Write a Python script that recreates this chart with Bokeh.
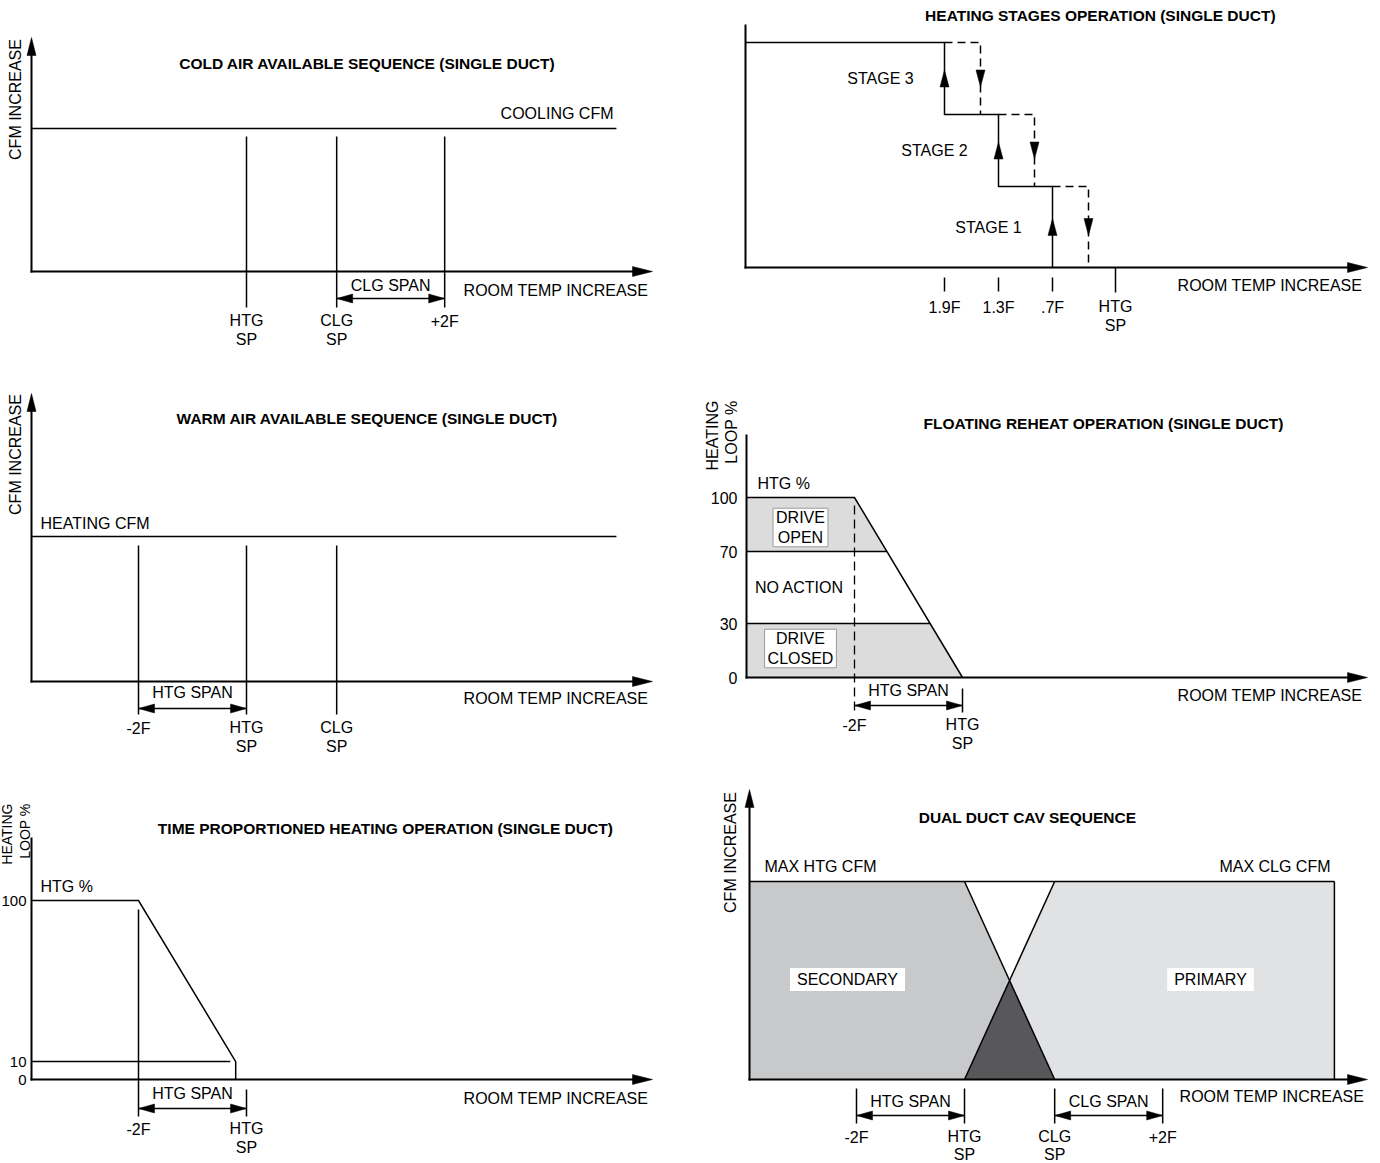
import math
import numpy as np
from bokeh.plotting import figure
from bokeh.models import Range1d, Label
from bokeh.core.properties import value
from bokeh.embed import file_html
from bokeh.resources import INLINE

# ---------------- chart values ----------------
# temperatures in deg F relative to the heating setpoint; air flow / loop output in %
# 1. Cold air available sequence
cold_marks_f = [0.0, 1.67, 3.67]
cold_mark_labels = ["HTG\nSP", "CLG\nSP", "+2F"]
cold_span_f = [1.67, 3.67]
cold_cooling_cfm = 100
cold_cfm_end_f = 6.85

# 2. Heating stages
stage_names = ["STAGE 1", "STAGE 2", "STAGE 3"]
stage_on_f = [-0.7, -1.3, -1.9]
stage_off_f = [-0.3, -0.9, -1.5]
stage_level = [36, 68, 100]
stage_tick_labels = [".7F", "1.3F", "1.9F"]

# 3. Warm air available sequence
warm_marks_f = [-2.0, 0.0, 1.67]
warm_mark_labels = ["-2F", "HTG\nSP", "CLG\nSP"]
warm_span_f = [-2.0, 0.0]
warm_heating_cfm = 100
warm_cfm_end_f = 6.85

# 4. Floating reheat
float_ramp_f = [-2.0, 0.0]
float_ramp_pct = [100, 0]
float_open_band = [70, 100]
float_closed_band = [0, 30]
float_ticks = [0, 30, 70, 100]
float_marks_f = [-2.0, 0.0]
float_mark_labels = ["-2F", "HTG\nSP"]

# 5. Time proportioned heating
tp_ramp_f = [-2.0, -0.2]
tp_ramp_pct = [100, 10]
tp_min_pct = 10
tp_min_end_f = -0.3
tp_ticks = [0, 10, 100]
tp_marks_f = [-2.0, 0.0]
tp_mark_labels = ["-2F", "HTG\nSP"]

# 6. Dual duct CAV
dd_htg_sp_f = 0.0
dd_clg_sp_f = 1.67
dd_span_f = 2.0
dd_max_cfm = 100
dd_end_f = 6.85
dd_marks_f = [-2.0, 0.0, 1.67, 3.67]
dd_mark_labels = ["-2F", "HTG\nSP", "CLG\nSP", "+2F"]

# ---------------- styles / layout ----------------
FONT = "Liberation Sans"
FSN = 16.0
FS = "16px"
FSB = "15.5px"
LH = 17.5
LW = 1.5
AXW = 2
BAND = "#dcdcdc"
SEC = "#c8c9cb"
PRI = "#e1e2e4"
OVL = "#58585a"

W, H = 1380, 1163
FL, FT = 0, 0

p = figure(width=W, height=H, x_range=Range1d(0, 1), y_range=Range1d(0, 1),
           min_border=0, min_border_left=0, min_border_right=0, min_border_top=0,
           min_border_bottom=0, toolbar_location=None, output_backend="svg",
           x_axis_type=None, y_axis_type=None, outline_line_color=None)
p.background_fill_color = "white"
p.border_fill_color = "white"


class Panel:
    def __init__(self, name, X0, SX, Y0, SY, dy=0):
        self.name, self.X0, self.SX, self.Y0, self.SY = name, X0, SX, Y0, SY
        p.extra_x_ranges[name] = Range1d((FL - X0) / SX, (FL + W - X0) / SX)
        p.extra_y_ranges[name] = Range1d((Y0 + dy - (FT + H)) / SY, (Y0 + dy - FT) / SY)
        self.kw = dict(x_range_name=name, y_range_name=name)

    def xd(self, px):
        return (px - self.X0) / self.SX

    def yd(self, py):
        return (self.Y0 - py) / self.SY

    def px(self, x):
        return self.X0 + x * self.SX

    def py(self, y):
        return self.Y0 - y * self.SY


def seg(P, x0, y0, x1, y1, width=LW, dash="solid", cap="butt"):
    p.segment(x0=[x0], y0=[y0], x1=[x1], y1=[y1], line_width=width, line_color="black",
              line_dash=dash, line_cap=cap, **P.kw)


def path(P, xs, ys, width=LW, dash="solid"):
    p.line(xs, ys, line_width=width, line_color="black", line_dash=dash,
           line_join="miter", **P.kw)


def head(P, x, y, direction, L=16, Wd=9):
    tx, ty = P.px(x), P.py(y)
    if direction == "right":
        pts = [(tx, ty), (tx - L, ty - Wd / 2), (tx - L, ty + Wd / 2)]
    elif direction == "left":
        pts = [(tx, ty), (tx + L, ty - Wd / 2), (tx + L, ty + Wd / 2)]
    elif direction == "up":
        pts = [(tx, ty), (tx - Wd / 2, ty + L), (tx + Wd / 2, ty + L)]
    else:
        pts = [(tx, ty), (tx - Wd / 2, ty - L), (tx + Wd / 2, ty - L)]
    p.patch([P.xd(a) for a, b in pts], [P.yd(b) for a, b in pts], fill_color="black",
            line_color="black", line_width=0.5, **P.kw)


def txt(P, x, y, s, align="center", baseline="middle", bold=False, angle=0.0,
        size=None, line_height=LH / FSN, **extra):
    if size is None:
        size = FSB if bold else FS
    p.text(x=[x], y=[y], text=[s], text_align=align, text_baseline=baseline, angle=angle,
           text_font=value(FONT), text_font_size=size,
           text_font_style="bold" if bold else "normal", text_color="black",
           text_line_height=line_height, **extra, **P.kw)


def boxed(P, x, y, s, border=None, pad=3):
    lab = Label(x=x, y=y, text=s, text_align="center", text_baseline="middle",
                text_font=FONT, text_font_size=FS, text_color="black",
                text_line_height=1.15,
                background_fill_color="white", border_line_color=border,
                border_line_width=1, padding=pad, **P.kw)
    p.add_layout(lab)


def axes(P, left_px, tip_px, top_px, y_arrow):
    ax = P.xd(left_px)
    seg(P, ax, 0, P.xd(tip_px - 8), 0, width=AXW, cap="square")
    head(P, P.xd(tip_px), 0, "right", L=20, Wd=10)
    if y_arrow:
        seg(P, ax, 0, ax, P.yd(top_px + 8), width=AXW, cap="square")
        head(P, ax, P.yd(top_px), "up", L=18, Wd=9)
    else:
        seg(P, ax, 0, ax, P.yd(top_px), width=AXW, cap="square")
    return ax


def span(P, xa, xb, ypx):
    y = P.yd(ypx)
    seg(P, xa, y, xb, y)
    head(P, xa, y, "left")
    head(P, xb, y, "right")


def mark_labels(P, xs, labels, first_py, lh=LH):
    for x, s in zip(xs, labels):
        n = s.count("\n")
        txt(P, x, P.yd(first_py + n * lh / 2), s, line_height=lh / FSN)


HALF_PI = math.pi / 2

# ---------------- 1. cold air ----------------
P = Panel("p1", X0=246, SX=54, Y0=271, SY=1.43)
ax = axes(P, 31, 652, 37, True)
seg(P, ax, cold_cooling_cfm, cold_cfm_end_f, cold_cooling_cfm)
for x in cold_marks_f:
    seg(P, x, P.yd(136), x, P.yd(307))
span(P, cold_span_f[0], cold_span_f[1], 298)
txt(P, sum(cold_span_f) / 2, P.yd(285), "CLG SPAN")
mark_labels(P, cold_marks_f, cold_mark_labels, 321)
txt(P, P.xd(613), P.yd(113), "COOLING CFM", align="right")
txt(P, P.xd(367), P.yd(63), "COLD AIR AVAILABLE SEQUENCE (SINGLE DUCT)", bold=True)
txt(P, P.xd(648), P.yd(290), "ROOM TEMP INCREASE", align="right")
txt(P, P.xd(15), P.yd(99), "CFM INCREASE", angle=HALF_PI)

# ---------------- 2. heating stages ----------------
P = Panel("p2", X0=1115, SX=90, Y0=267, SY=2.25)
ax = axes(P, 745, 1367, 25, False)
lv = stage_level[::-1]
on = stage_on_f[::-1]
off = stage_off_f[::-1]
names = stage_names[::-1]
lower = lv[1:] + [0]
xs, ys = [ax], [lv[0]]
for i in range(len(lv)):
    xs += [on[i], on[i]]
    ys += [lv[i], lower[i]]
path(P, xs, ys)
for i in range(len(lv)):
    path(P, [on[i], off[i], off[i]], [lv[i], lv[i], lower[i]], dash="8 5")
    mid = (P.py(lv[i]) + P.py(lower[i])) / 2
    head(P, on[i], P.yd(mid - 8.5), "up", L=17, Wd=9)
    head(P, off[i], P.yd(mid + 8.5), "down", L=17, Wd=9)
    txt(P, on[i], P.yd(mid), names[i], x_offset=-64)
for x in stage_on_f:
    seg(P, x, P.yd(277), x, P.yd(291))
seg(P, 0, 0, 0, P.yd(292))
mark_labels(P, stage_on_f, stage_tick_labels, 307)
mark_labels(P, [0.0], ["HTG\nSP"], 307)
txt(P, P.xd(1102), P.yd(15), "HEATING STAGES OPERATION  (SINGLE DUCT)", bold=True)
txt(P, P.xd(1362), P.yd(285), "ROOM TEMP INCREASE", align="right")

# ---------------- 3. warm air ----------------
P = Panel("p3", X0=246, SX=54, Y0=681, SY=1.45)
ax = axes(P, 31, 652, 393, True)
seg(P, ax, warm_heating_cfm, warm_cfm_end_f, warm_heating_cfm)
for x in warm_marks_f:
    seg(P, x, P.yd(545), x, P.yd(714))
span(P, warm_span_f[0], warm_span_f[1], 708)
txt(P, sum(warm_span_f) / 2, P.yd(692), "HTG SPAN")
mark_labels(P, warm_marks_f, warm_mark_labels, 728)
txt(P, P.xd(40), P.yd(523), "HEATING CFM", align="left")
txt(P, P.xd(367), P.yd(418), "WARM AIR AVAILABLE SEQUENCE (SINGLE DUCT)", bold=True)
txt(P, P.xd(648), P.yd(698), "ROOM TEMP INCREASE", align="right")
txt(P, P.xd(15), P.yd(454), "CFM INCREASE", angle=HALF_PI)

# ---------------- 4. floating reheat ----------------
P = Panel("p4", X0=962, SX=54, Y0=677, SY=1.8)


def float_x(y):
    return float(np.interp(y, float_ramp_pct[::-1], float_ramp_f[::-1]))


axl = P.xd(746)
for lo, hi in (float_open_band, float_closed_band):
    p.patch([axl, float_x(hi), float_x(lo), axl], [hi, hi, lo, lo], fill_color=BAND,
            line_color=None, **P.kw)
axes(P, 746, 1367, 435, False)
path(P, [axl] + float_ramp_f, [float_ramp_pct[0]] + float_ramp_pct)
for yv in (float_open_band[0], float_closed_band[1]):
    seg(P, axl, yv, float_x(yv), yv)
seg(P, float_marks_f[0], P.yd(505), float_marks_f[0], P.yd(713), width=1.3, dash="9 5")
seg(P, float_marks_f[1], P.yd(688), float_marks_f[1], P.yd(712))
span(P, float_marks_f[0], float_marks_f[1], 705)
txt(P, sum(float_marks_f) / 2, P.yd(690), "HTG SPAN")
mark_labels(P, float_marks_f, float_mark_labels, 725)
for v in float_ticks:
    txt(P, P.xd(737), v, str(v), align="right")
txt(P, P.xd(757), P.yd(483), "HTG %", align="left")
boxed(P, P.xd(800), P.yd(527), "DRIVE\nOPEN", border="#9a9a9a", pad=(3, 1))
txt(P, P.xd(799), P.yd(587), "NO ACTION")
boxed(P, P.xd(800), P.yd(648), "DRIVE\nCLOSED", border="#9a9a9a", pad=(3, 1))
txt(P, P.xd(1103), P.yd(423), "FLOATING REHEAT OPERATION (SINGLE DUCT)", bold=True)
txt(P, P.xd(1362), P.yd(695), "ROOM TEMP INCREASE", align="right")
txt(P, P.xd(721.5), P.yd(400), "HEATING\nLOOP %", align="right", angle=HALF_PI)

# ---------------- 5. time proportioned ----------------
P = Panel("p5", X0=246, SX=54, Y0=1083, SY=1.79, dy=-4)
ax = axes(P, 31, 652, 842, False)
path(P, [ax] + tp_ramp_f + [tp_ramp_f[-1]], [tp_ramp_pct[0]] + tp_ramp_pct + [0])
seg(P, ax, tp_min_pct, tp_min_end_f, tp_min_pct)
seg(P, tp_marks_f[0], P.yd(913), tp_marks_f[0], P.yd(1120))
seg(P, tp_marks_f[1], P.yd(1093), tp_marks_f[1], P.yd(1120))
span(P, tp_marks_f[0], tp_marks_f[1], 1112)
txt(P, sum(tp_marks_f) / 2, P.yd(1097), "HTG SPAN")
mark_labels(P, tp_marks_f, tp_mark_labels, 1133)
for v in tp_ticks:
    txt(P, P.xd(26), v, str(v), align="right", size="15px")
txt(P, P.xd(40), P.yd(890), "HTG %", align="left")
txt(P, P.xd(387), P.yd(832), "TIME PROPORTIONED HEATING OPERATION  (SINGLE DUCT)", bold=True)
txt(P, P.xd(648), P.yd(1102), "ROOM TEMP INCREASE", align="right")
txt(P, P.xd(15.5), P.yd(807), "HEATING\nLOOP %", align="right", angle=HALF_PI,
    size="14px", line_height=1.12)

# ---------------- 6. dual duct ----------------
P = Panel("p6", X0=964, SX=54, Y0=1083, SY=1.98, dy=-4)
axl = P.xd(749)
h, c, e, m = dd_htg_sp_f, dd_clg_sp_f, dd_end_f, dd_max_cfm
p.patch([axl, axl, h, c], [0, m, m, 0], fill_color=SEC, line_color=None, **P.kw)
p.patch([h, c, e, e], [0, m, m, 0], fill_color=PRI, line_color=None, **P.kw)
p.patch([h, c, (h + c) / 2], [0, 0, m / 2], fill_color=OVL, line_color=None, **P.kw)
seg(P, axl, m, e, m)
seg(P, e, 0, e, m)
seg(P, h, m, c, 0)
seg(P, c, m, h, 0)
axes(P, 749, 1367, 793, True)
for x in dd_marks_f:
    seg(P, x, P.yd(1092), x, P.yd(1127))
span(P, h - dd_span_f, h, 1119)
span(P, c, c + dd_span_f, 1119)
txt(P, h - dd_span_f / 2, P.yd(1105), "HTG SPAN")
txt(P, c + dd_span_f / 2, P.yd(1105), "CLG SPAN")
mark_labels(P, dd_marks_f, dd_mark_labels, 1141, lh=16.5)
txt(P, P.xd(764), P.yd(870), "MAX HTG CFM", align="left")
txt(P, P.xd(1330), P.yd(870), "MAX CLG CFM", align="right")
boxed(P, P.xd(847), P.yd(983), "SECONDARY", pad=(7, 3))
boxed(P, P.xd(1210), P.yd(983), "PRIMARY", pad=(7, 3))
txt(P, P.xd(1027), P.yd(821), "DUAL DUCT CAV SEQUENCE", bold=True)
txt(P, P.xd(1364), P.yd(1100), "ROOM TEMP INCREASE", align="right")
txt(P, P.xd(730), P.yd(856), "CFM INCREASE", angle=HALF_PI)

open("out.html", "w").write(file_html(p, INLINE))
